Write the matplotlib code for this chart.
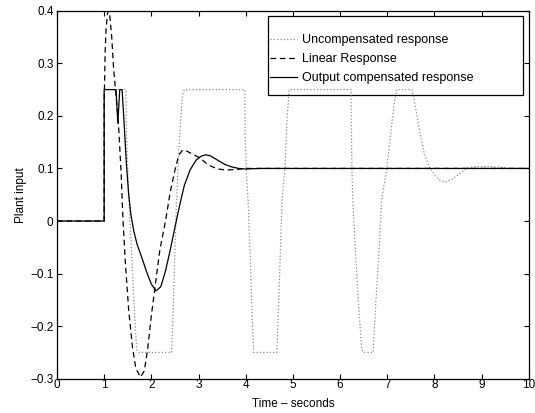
import matplotlib
matplotlib.use("Agg")
from matplotlib import pyplot as plt
from matplotlib.patches import Rectangle

plt.rcParams['font.family'] = ['Liberation Sans', 'DejaVu Sans']

# Uncompensated response (saturated oscillation)
t_unc = [0, 1, 1, 1.46, 1.47, 1.52, 1.58, 1.64, 1.69, 1.74,
         2.43, 2.47, 2.50, 2.53, 2.57, 2.61, 2.66, 2.70,
         3.98, 3.99, 4.02, 4.05, 4.10, 4.14, 4.17,
         4.66, 4.70, 4.77, 4.83, 4.88, 4.92,
         6.23, 6.25, 6.27, 6.33, 6.40, 6.46, 6.50,
         6.70, 6.76, 6.83, 6.88, 6.99, 7.09, 7.15, 7.20,
         7.52, 7.56, 7.62, 7.69, 7.78, 7.88, 8.00, 8.10, 8.22, 8.35, 8.50, 8.69,
         8.80, 9.10, 9.40, 9.60, 10]
y_unc = [0, 0, 0.25, 0.25, 0.17, 0.05, -0.06, -0.17, -0.245, -0.25,
         -0.25, -0.15, -0.055, 0.03, 0.11, 0.18, 0.24, 0.25,
         0.25, 0.15, 0.08, 0.04, -0.08, -0.19, -0.25,
         -0.25, -0.15, 0.04, 0.10, 0.20, 0.25,
         0.25, 0.10, 0.04, -0.07, -0.17, -0.245, -0.25,
         -0.25, -0.15, -0.05, 0.04, 0.10, 0.18, 0.225, 0.25,
         0.25, 0.236, 0.205, 0.167, 0.13, 0.105, 0.088, 0.078, 0.074, 0.078, 0.088, 0.10,
         0.103, 0.104, 0.102, 0.10, 0.10]

# Linear response
t_lin = [0, 1, 1, 1.02, 1.04, 1.07, 1.09, 1.12, 1.16, 1.20, 1.24,
         1.30, 1.36, 1.40, 1.45, 1.52, 1.60, 1.67, 1.77, 1.85, 1.92,
         2.00, 2.10, 2.18, 2.30, 2.40, 2.50, 2.58, 2.66, 2.75, 2.90,
         3.03, 3.20, 3.40, 3.60, 3.80, 4.00, 10]
y_lin = [0, 0, 0.22, 0.32, 0.365, 0.395, 0.40, 0.39, 0.35, 0.29, 0.25,
         0.19, 0.09, 0.0, -0.08, -0.17, -0.24, -0.28, -0.297, -0.285, -0.245,
         -0.18, -0.11, -0.055, 0.0, 0.055, 0.097, 0.125, 0.135, 0.133, 0.126,
         0.12, 0.107, 0.099, 0.097, 0.098, 0.10, 0.10]

# Output compensated response
t_out = [0, 1, 1, 1.25, 1.29, 1.33, 1.38, 1.42, 1.47, 1.52, 1.57, 1.63,
         1.70, 1.80, 1.90, 2.00, 2.10, 2.20, 2.30, 2.40, 2.50, 2.60,
         2.70, 2.82, 2.95, 3.05, 3.15, 3.25, 3.40, 3.55, 3.70, 3.85,
         4.00, 4.30, 10]
y_out = [0, 0, 0.25, 0.25, 0.186, 0.25, 0.25, 0.19, 0.11, 0.05, 0.01, -0.02,
         -0.045, -0.07, -0.097, -0.12, -0.133, -0.125, -0.095, -0.055, -0.012, 0.03,
         0.068, 0.097, 0.116, 0.123, 0.126, 0.124, 0.116, 0.108, 0.103, 0.10,
         0.099, 0.10, 0.10]

fig = plt.figure(figsize=(5.35, 4.13), dpi=100)
ax = fig.add_axes([0.1065, 0.083, 0.882, 0.891])

ax.plot(t_unc, y_unc, linestyle=':', color='0.55', linewidth=0.9,
        label='Uncompensated response', zorder=3)
ax.plot(t_lin, y_lin, color='k', linewidth=0.9, dashes=(4.5, 3),
        label='Linear Response', zorder=3)
ax.plot(t_out, y_out, color='k', linewidth=0.9,
        label='Output compensated response', zorder=3)

ax.set_xlim(0, 10)
ax.set_ylim(-0.3, 0.4)
ax.set_xticks(range(0, 11))
yt = [-0.3, -0.2, -0.1, 0, 0.1, 0.2, 0.3, 0.4]
ax.set_yticks(yt)
ax.set_yticklabels(['\u22120.3', '\u22120.2', '\u22120.1', '0', '0.1', '0.2', '0.3', '0.4'])
ax.tick_params(direction='in', top=True, right=True, length=3.5, width=0.8,
               labelsize=8.5)
ax.tick_params(axis='x', pad=0.5)
ax.tick_params(axis='y', pad=2.5)
for s in ax.spines.values():
    s.set_linewidth(0.9)

ax.set_xlabel('Time \u2013 seconds', fontsize=8.5, labelpad=5)
ax.set_ylabel('Plant input', fontsize=8.5, labelpad=2)

# legend box, MATLAB style: lines drawn over it, extra room on the right
ax.add_patch(Rectangle((0.447, 0.770), 0.540, 0.2156, transform=ax.transAxes,
                       facecolor='white', edgecolor='k', linewidth=0.9, zorder=2))
ax.legend(loc='upper left', bbox_to_anchor=(0.451, 0.937), fontsize=9,
          frameon=False, borderpad=0, borderaxespad=0, handlelength=2.15,
          handletextpad=0.45, labelspacing=0.56)

fig.savefig('out.png', dpi=100)
